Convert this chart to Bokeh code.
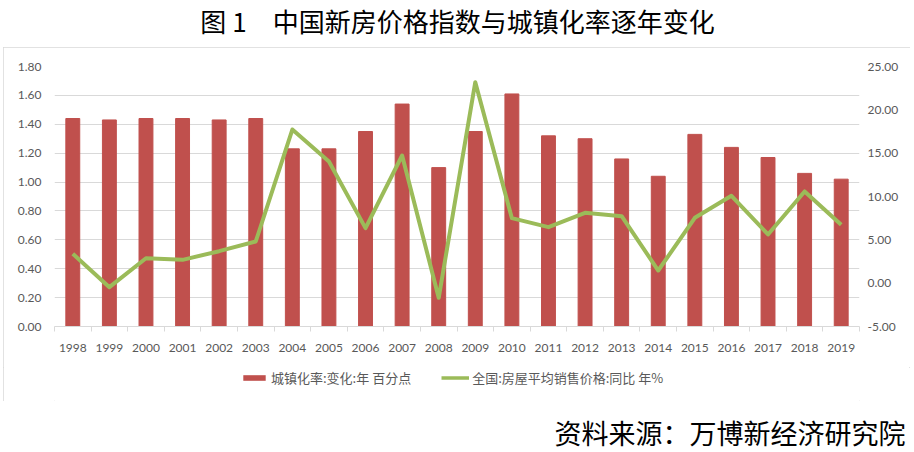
from bokeh.plotting import figure
from bokeh.layouts import column, row
from bokeh.models import (Range1d, LinearAxis, FixedTicker, Label, Legend, LegendItem,
                          ColumnDataSource, NumeralTickFormatter, Spacer)
from bokeh.embed import file_html
from bokeh.resources import INLINE

years = [1998, 1999, 2000, 2001, 2002, 2003, 2004, 2005, 2006, 2007, 2008,
         2009, 2010, 2011, 2012, 2013, 2014, 2015, 2016, 2017, 2018, 2019]
urban_change = [1.44, 1.43, 1.44, 1.44, 1.43, 1.44, 1.23, 1.23, 1.35, 1.54, 1.10,
                1.35, 1.61, 1.32, 1.30, 1.16, 1.04, 1.33, 1.24, 1.17, 1.06, 1.02]
price_yoy = [3.39, -0.46, 2.88, 2.69, 3.69, 4.81, 17.73, 14.04, 6.35, 14.73, -1.69,
             23.19, 7.50, 6.46, 8.12, 7.73, 1.46, 7.54, 10.08, 5.62, 10.58, 6.73]
left_ticks = [0.0, 0.2, 0.4, 0.6, 0.8, 1.0, 1.2, 1.4, 1.6, 1.8]
right_ticks = [-5, 0, 5, 10, 15, 20, 25]

title_text = "图 1\u3000中国新房价格指数与城镇化率逐年变化"
source_text = "资料来源：万博新经济研究院"
bar_label = "城镇化率:变化:年 百分点"
line_label = "全国:房屋平均销售价格:同比 年%"

PAGE_W = 914
BOX_W = 907
BAR_COLOR = "#c0504d"
LINE_COLOR = "#9bbb59"
TICK_COLOR = "#595959"
NUM_FONT = "Lato"
CJK_FONT = "Noto Sans CJK SC"


def blank_fig(w, h, xr=(0, 1), yr=(0, 1)):
    f = figure(width=w, height=h, output_backend="svg", toolbar_location=None,
               x_axis_type=None, y_axis_type=None, min_border=0,
               x_range=Range1d(*xr), y_range=Range1d(*yr))
    f.outline_line_color = None
    f.background_fill_color = "white"
    f.border_fill_color = "white"
    return f


# ---- title ----
TITLE_H = 47
title_fig = blank_fig(PAGE_W, TITLE_H)
title_fig.add_layout(Label(x=457, y=TITLE_H - 20, x_units="screen", y_units="screen",
                           text=title_text, text_align="center", text_baseline="middle",
                           text_font=CJK_FONT, text_font_size="26px", text_color="black"))

# ---- main chart ----
x = list(range(len(years)))
src = ColumnDataSource(dict(x=x, urb=urban_change, price=price_yoy))

p = figure(width=BOX_W, height=320, output_backend="svg", toolbar_location=None,
           x_range=Range1d(-0.5, len(years) - 0.5), y_range=Range1d(0, 1.8),
           min_border_left=51, min_border_right=51, min_border_top=19,
           min_border_bottom=41)
p.extra_y_ranges = {"right": Range1d(-5, 25)}
p.outline_line_color = None
p.background_fill_color = "white"
p.border_fill_color = "white"

bars = p.vbar(x="x", top="urb", width=0.38, source=src,
              fill_color=BAR_COLOR, line_color=BAR_COLOR)
line = p.line(x="x", y="price", source=src, y_range_name="right",
              line_color=LINE_COLOR, line_width=4, line_join="round")

xax = p.xaxis[0]
xax.ticker = FixedTicker(ticks=x, minor_ticks=[i - 0.5 for i in range(len(years) + 1)])
xax.major_label_overrides = {i: str(y) for i, y in zip(x, years)}
xax.major_tick_line_color = None
xax.major_tick_out = 0
xax.minor_tick_out = 5
xax.minor_tick_in = 0
xax.minor_tick_line_color = "#d9d9d9"
xax.axis_line_color = "#d9d9d9"
xax.major_label_standoff = 12
xax.major_label_text_font = NUM_FONT
xax.major_label_text_font_size = "12px"
xax.major_label_text_color = TICK_COLOR

yax = p.yaxis[0]
yax.ticker = FixedTicker(ticks=left_ticks)
yax.formatter = NumeralTickFormatter(format="0.00")
yax.axis_line_color = None
yax.major_tick_line_color = None
yax.minor_tick_line_color = None
yax.major_tick_out = 0
yax.major_label_standoff = 13
yax.major_label_text_font = NUM_FONT
yax.major_label_text_font_size = "12px"
yax.major_label_text_color = TICK_COLOR

rax = LinearAxis(y_range_name="right", ticker=FixedTicker(ticks=right_ticks),
                 formatter=NumeralTickFormatter(format="0.00"))
rax.axis_line_color = None
rax.major_tick_line_color = None
rax.minor_tick_line_color = None
rax.major_tick_out = 0
rax.major_label_standoff = 8
rax.major_label_text_font = NUM_FONT
rax.major_label_text_font_size = "12px"
rax.major_label_text_color = TICK_COLOR
p.add_layout(rax, "right")

p.xgrid.visible = False
p.ygrid.ticker = FixedTicker(ticks=left_ticks)
p.ygrid.grid_line_color = "#d9d9d9"
p.ygrid.grid_line_width = 1.2

# ---- legend strip (inside the bordered box) ----
# the strip's ranges lie outside the data, so its renderers only serve the legend
LEG_H = 34
leg_fig = blank_fig(BOX_W, LEG_H, xr=(100, 101), yr=(100, 101))
leg_bar = leg_fig.vbar(x="x", top="urb", width=0.38, source=src,
                       fill_color=BAR_COLOR, line_color=None)
leg_line = leg_fig.line(x="x", y="price", source=src,
                        line_color=LINE_COLOR, line_width=3.5)
legend = Legend(items=[LegendItem(label=bar_label, renderers=[leg_bar]),
                       LegendItem(label=line_label, renderers=[leg_line])],
                orientation="horizontal", location=(186, 14), spacing=30,
                glyph_width=28, glyph_height=7, label_standoff=3,
                label_text_font=CJK_FONT, label_text_font_size="13px",
                label_text_color=TICK_COLOR, border_line_color=None,
                background_fill_alpha=0, margin=0, padding=0)
leg_fig.add_layout(legend)

box = column(p, leg_fig, styles={"outline": "1.5px solid #d9d9d9",
                                 "outline-offset": "-1.5px"})

# ---- source ----
SRC_H = 51
src_fig = blank_fig(PAGE_W, SRC_H)
src_fig.add_layout(Label(x=905, y=SRC_H - 31, x_units="screen", y_units="screen",
                         text=source_text, text_align="right", text_baseline="middle",
                         text_font=CJK_FONT, text_font_size="27px", text_color="black"))

layout = column(title_fig, row(Spacer(width=3, height=320 + LEG_H), box), src_fig)

open("out.html", "w").write(file_html(layout, INLINE))
